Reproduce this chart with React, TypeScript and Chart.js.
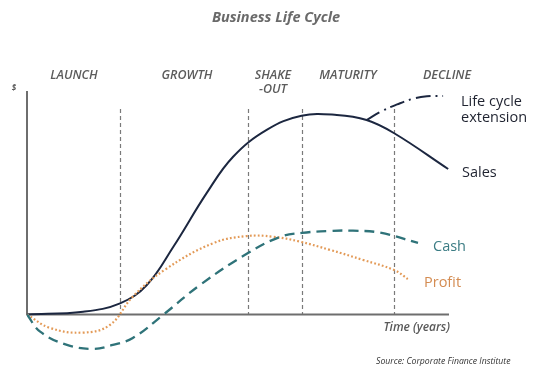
import React, { useEffect, useRef } from "react";
import { Chart, registerables } from "chart.js";

Chart.register(...registerables);

// ---- Data (time units 0..100, value units -20..100) ----
const phaseLabels = ["LAUNCH", "GROWTH", "SHAKE\n-OUT", "MATURITY", "DECLINE"];
const phaseBoundaries = [21.9, 52.0, 64.7, 86.4];
const phaseLineTop = 91.9;

const salesT = [0, 13.2, 21.9, 28.2, 34.4, 42.3, 48.5, 56.4, 64.6, 72.9, 79.9, 86.4, 99.1];
const salesV = [0, 1.25, 5.0, 13.2, 30.2, 54.4, 70.6, 82.6, 88.9, 89.3, 87.0, 81.1, 65.1];

const extensionT = [79.9, 83.5, 87.1, 90.6, 94.1, 97.9];
const extensionV = [87.0, 91.0, 94.0, 96.4, 97.6, 97.8];

const profitT = [0, 5.4, 13.2, 19.5, 24.9, 32.5, 43.8, 51.7, 57.9, 64.2, 71.3, 79.1, 86.4, 89.6];
const profitV = [0, -6.0, -8.1, -4.7, 8.0, 20.1, 31.9, 35.1, 34.8, 32.6, 28.9, 24.4, 19.9, 15.9];

const cashT = [0, 3.1, 9.4, 15.5, 20.2, 24.9, 32.0, 40.7, 52.0, 59.5, 64.7, 71.3, 76.7, 83.1, 92.0];
const cashV = [0, -7.7, -13.6, -15.4, -13.6, -10.5, -0.2, 13.2, 27.5, 34.7, 36.5, 37.4, 37.5, 36.6, 32.0];

const zip = (xs: number[], ys: number[]) => xs.map((x, i) => ({ x, y: ys[i] }));

const FONT = "'Open Sans', 'Noto Sans', sans-serif";

const decorPlugin = {
  id: "decor",
  beforeDatasetsDraw(chart: any) {
    const { ctx, scales } = chart;
    const x = scales.x;
    const y = scales.y;
    ctx.save();
    ctx.strokeStyle = "#7a7a7a";
    ctx.lineWidth = 1.2;
    ctx.setLineDash([4, 3]);
    phaseBoundaries.forEach((t) => {
      const px = Math.round(x.getPixelForValue(t)) + 0.5;
      ctx.beginPath();
      ctx.moveTo(px, y.getPixelForValue(phaseLineTop));
      ctx.lineTo(px, y.getPixelForValue(0));
      ctx.stroke();
    });
    ctx.setLineDash([]);
    ctx.lineWidth = 2;
    ctx.strokeStyle = "#6e6e6e";
    ctx.beginPath();
    ctx.moveTo(x.getPixelForValue(0), y.getPixelForValue(100));
    ctx.lineTo(x.getPixelForValue(0), y.getPixelForValue(0));
    ctx.lineTo(x.getPixelForValue(99.3), y.getPixelForValue(0));
    ctx.stroke();
    ctx.restore();
  },
  afterDraw(chart: any) {
    const { ctx } = chart;
    ctx.save();
    ctx.textBaseline = "middle";
    ctx.fillStyle = "#6a6a6a";
    ctx.font = `italic bold 14.5px ${FONT}`;
    ctx.textAlign = "center";
    ctx.fillText("Business Life Cycle", 276, 18);
    ctx.fillStyle = "#5c5c5c";
    ctx.font = `italic 600 12.5px ${FONT}`;
    const phaseX = [74, 187, 273, 348, 447];
    phaseLabels.forEach((lab, i) => {
      lab.split("\n").forEach((line, j) => {
        ctx.fillText(line, phaseX[i], 75 + j * 14);
      });
    });
    ctx.font = `italic bold 8px ${FONT}`;
    ctx.fillText("$", 14, 89);
    ctx.textAlign = "left";
    ctx.font = `14.5px ${FONT}`;
    ctx.fillStyle = "#1f2330";
    ctx.fillText("Life cycle", 461, 102);
    ctx.fillText("extension", 461, 118);
    ctx.fillText("Sales", 462, 172.5);
    ctx.fillStyle = "#3b7c84";
    ctx.fillText("Cash", 433, 247);
    ctx.fillStyle = "#d48c52";
    ctx.fillText("Profit", 424, 283);
    ctx.fillStyle = "#5a5a5a";
    ctx.textAlign = "right";
    ctx.font = `italic 600 12px ${FONT}`;
    ctx.fillText("Time (years)", 450, 328);
    ctx.textAlign = "left";
    ctx.fillStyle = "#333";
    ctx.font = `italic 8.7px ${FONT}`;
    ctx.fillText("Source: Corporate Finance Institute", 376, 361.5);
    ctx.restore();
  },
};

export default function App() {
  const ref = useRef<HTMLCanvasElement | null>(null);
  useEffect(() => {
    if (!ref.current) return;
    const chart = new Chart(ref.current, {
      type: "line",
      data: {
        datasets: [
          {
            label: "Cash",
            data: zip(cashT, cashV),
            borderColor: "#2f7379",
            borderWidth: 2.3,
            borderDash: [10, 6],
            pointRadius: 0,
            tension: 0.4,
            fill: false,
          },
          {
            label: "Profit",
            data: zip(profitT, profitV),
            borderColor: "#e39a57",
            borderWidth: 2.2,
            borderDash: [1.8, 2.2],
            pointRadius: 0,
            tension: 0.4,
            fill: false,
          },
          {
            label: "Life cycle extension",
            data: zip(extensionT, extensionV),
            borderColor: "#1c2740",
            borderWidth: 2,
            borderDash: [15, 5, 2, 5],
            pointRadius: 0,
            tension: 0.4,
            fill: false,
          },
          {
            label: "Sales",
            data: zip(salesT, salesV),
            borderColor: "#1c2740",
            borderWidth: 2,
            pointRadius: 0,
            tension: 0.4,
            fill: false,
          },
        ],
      },
      options: {
        responsive: false,
        animation: false,
        layout: { padding: { left: 27, right: 98, top: 91, bottom: 14.8 } },
        plugins: { legend: { display: false }, tooltip: { enabled: false }, title: { display: false } },
        scales: {
          x: { type: "linear", min: 0, max: 100, display: false },
          y: { type: "linear", min: -20, max: 100, display: false },
        },
      },
      plugins: [decorPlugin],
    } as any);
    return () => chart.destroy();
  }, []);
  return (
    <div style={{ position: "fixed", left: 0, top: 0, width: 550, height: 374, background: "#fff" }}>
      <canvas ref={ref} width={550} height={374} style={{ width: 550, height: 374, display: "block" }} />
    </div>
  );
}
